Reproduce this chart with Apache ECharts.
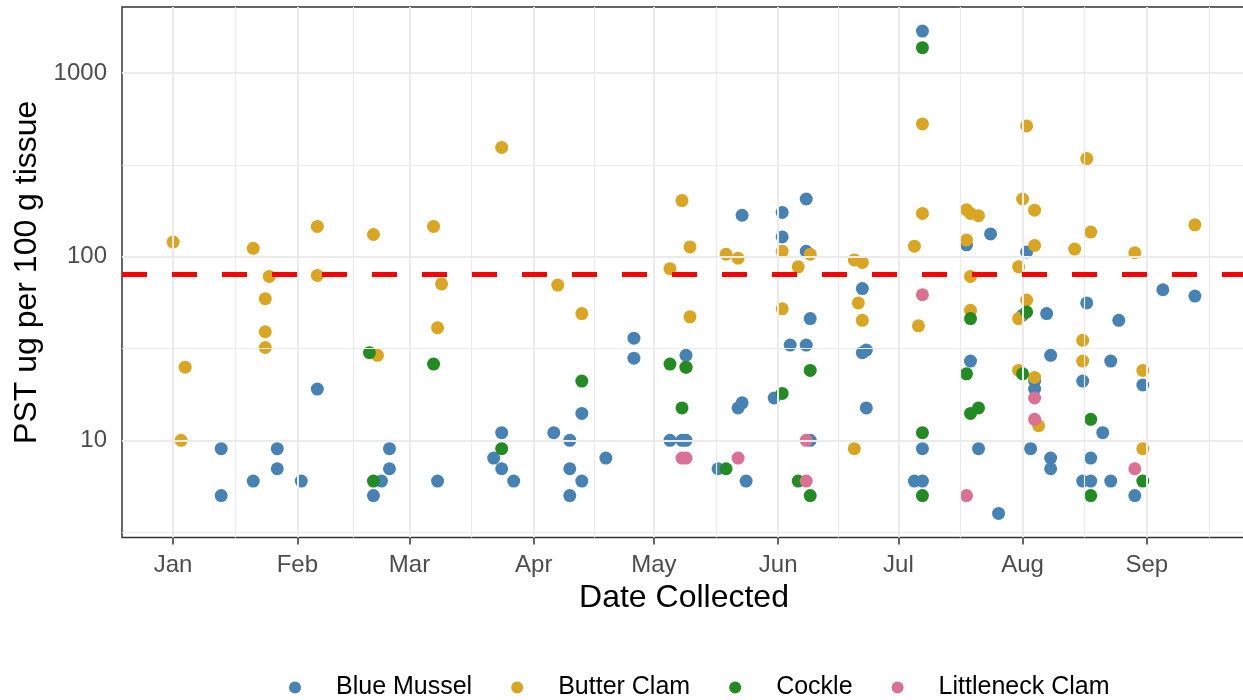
<!DOCTYPE html>
<html>
<head>
<meta charset="utf-8">
<script src="https://cdn.jsdelivr.net/npm/echarts@6/dist/echarts.min.js"></script>
<style>html,body{margin:0;padding:0;background:#fff}#chart{width:1243px;height:700px}</style>
</head>
<body>
<div id="chart"></div>
<script>
// ---------- data ----------
const speciesNames = ['Blue Mussel', 'Butter Clam', 'Cockle', 'Littleneck Clam'];
const speciesColors = ['#4682B4', '#DAA520', '#228B22', '#DB7093'];
const monthLabels = ['Jan', 'Feb', 'Mar', 'Apr', 'May', 'Jun', 'Jul', 'Aug', 'Sep'];
const monthStarts = ['2019-01-01', '2019-02-01', '2019-03-01', '2019-04-01', '2019-05-01',
  '2019-06-01', '2019-07-01', '2019-08-01', '2019-09-01'];
const yTickValues = [10, 100, 1000];
const actionLevel = 80;

const blueMussel = [
  ['2019-01-13', 9], ['2019-01-13', 5], ['2019-01-21', 6], ['2019-01-27', 9], ['2019-01-27', 7],
  ['2019-02-02', 6], ['2019-02-06', 19], ['2019-02-20', 5], ['2019-02-22', 6], ['2019-02-24', 9],
  ['2019-02-24', 7], ['2019-03-08', 6], ['2019-03-22', 8], ['2019-03-24', 11], ['2019-03-24', 7],
  ['2019-03-27', 6], ['2019-04-06', 11], ['2019-04-10', 10], ['2019-04-10', 7], ['2019-04-10', 5],
  ['2019-04-13', 14], ['2019-04-13', 6], ['2019-04-19', 8], ['2019-04-26', 36], ['2019-04-26', 28],
  ['2019-05-05', 10], ['2019-05-08', 10], ['2019-05-09', 10], ['2019-05-09', 29], ['2019-05-17', 7],
  ['2019-05-22', 15], ['2019-05-23', 16], ['2019-05-23', 168], ['2019-05-24', 6], ['2019-05-31', 17],
  ['2019-06-02', 174], ['2019-06-02', 128], ['2019-06-04', 33], ['2019-06-08', 206], ['2019-06-08', 107],
  ['2019-06-08', 33], ['2019-06-09', 46], ['2019-06-09', 10], ['2019-06-22', 67], ['2019-06-22', 30],
  ['2019-06-23', 31], ['2019-06-23', 15], ['2019-07-05', 6], ['2019-07-07', 1690], ['2019-07-07', 9],
  ['2019-07-07', 6], ['2019-07-18', 116], ['2019-07-19', 27], ['2019-07-21', 9], ['2019-07-24', 133],
  ['2019-07-26', 4], ['2019-08-01', 48], ['2019-08-02', 106], ['2019-08-03', 9], ['2019-08-04', 21],
  ['2019-08-04', 19], ['2019-08-07', 49], ['2019-08-08', 29], ['2019-08-08', 8], ['2019-08-08', 7],
  ['2019-08-16', 21], ['2019-08-16', 6], ['2019-08-17', 56], ['2019-08-18', 8], ['2019-08-18', 6],
  ['2019-08-21', 11], ['2019-08-23', 27], ['2019-08-23', 6], ['2019-08-25', 45], ['2019-08-29', 5],
  ['2019-08-31', 20], ['2019-09-05', 66], ['2019-09-13', 61]
];
const butterClam = [
  ['2019-01-01', 120], ['2019-01-03', 10], ['2019-01-04', 25], ['2019-01-21', 111], ['2019-01-24', 59],
  ['2019-01-24', 39], ['2019-01-24', 32], ['2019-01-25', 78], ['2019-02-06', 146], ['2019-02-06', 79],
  ['2019-02-20', 132], ['2019-02-21', 29], ['2019-03-07', 146], ['2019-03-08', 41], ['2019-03-09', 71],
  ['2019-03-24', 393], ['2019-04-07', 70], ['2019-04-13', 49], ['2019-05-05', 86], ['2019-05-08', 202],
  ['2019-05-09', 25], ['2019-05-10', 113], ['2019-05-10', 47], ['2019-05-19', 103], ['2019-05-22', 98],
  ['2019-06-02', 107], ['2019-06-02', 52], ['2019-06-06', 88], ['2019-06-09', 103], ['2019-06-20', 96],
  ['2019-06-20', 9], ['2019-06-21', 56], ['2019-06-22', 93], ['2019-06-22', 45], ['2019-07-05', 114],
  ['2019-07-06', 42], ['2019-07-07', 528], ['2019-07-07', 172], ['2019-07-18', 180], ['2019-07-18', 123],
  ['2019-07-19', 172], ['2019-07-19', 78], ['2019-07-19', 51], ['2019-07-21', 167], ['2019-07-31', 88],
  ['2019-07-31', 46], ['2019-07-31', 24], ['2019-08-01', 206], ['2019-08-02', 515], ['2019-08-02', 58],
  ['2019-08-04', 179], ['2019-08-04', 115], ['2019-08-04', 22], ['2019-08-05', 12], ['2019-08-14', 110],
  ['2019-08-16', 35], ['2019-08-16', 27], ['2019-08-17', 342], ['2019-08-18', 136], ['2019-08-29', 105],
  ['2019-08-31', 24], ['2019-08-31', 9], ['2019-09-13', 149]
];
const cockle = [
  ['2019-02-19', 30], ['2019-02-20', 6], ['2019-03-07', 26], ['2019-03-24', 9], ['2019-04-13', 21],
  ['2019-05-05', 26], ['2019-05-08', 15], ['2019-05-09', 25], ['2019-05-19', 7], ['2019-06-02', 18],
  ['2019-06-06', 6], ['2019-06-09', 24], ['2019-06-09', 5], ['2019-07-07', 1373], ['2019-07-07', 11],
  ['2019-07-07', 5], ['2019-07-18', 23], ['2019-07-19', 46], ['2019-07-19', 14], ['2019-07-21', 15],
  ['2019-08-01', 23], ['2019-08-02', 50], ['2019-08-18', 13], ['2019-08-18', 5], ['2019-08-31', 6]
];
const littleneckClam = [
  ['2019-05-08', 8], ['2019-05-09', 8], ['2019-05-22', 8], ['2019-06-08', 10], ['2019-06-08', 6],
  ['2019-07-07', 62], ['2019-07-18', 5], ['2019-08-04', 17], ['2019-08-04', 13], ['2019-08-29', 7]
];

// ---------- derived (x axis in days since Jan 1) ----------
const speciesData = [blueMussel, butterClam, cockle, littleneckClam];
const DAY = 86400000;
const origin = Date.parse(monthStarts[0] + 'T00:00:00Z');
const toDay = d => (Date.parse(d + 'T00:00:00Z') - origin) / DAY;
const allPts = speciesData.flat();
const allT = allPts.map(p => toDay(p[0]));
const allV = allPts.map(p => p[1]);
const tMin = Math.min(...allT), tMax = Math.max(...allT);
const tPad = (tMax - tMin) * 0.05;
const xMin = tMin - tPad, xMax = tMax + tPad;
const lMin = Math.log10(Math.min(...allV)), lMax = Math.log10(Math.max(...allV));
const lPad = (lMax - lMin) * 0.05;
const yMin = Math.pow(10, lMin - lPad), yMax = Math.pow(10, lMax + lPad);

const monthDays = monthStarts.map(toDay);
const nM = monthDays.length;
const xMinor = [monthDays[0] - (monthDays[1] - monthDays[0]) / 2];
for (let i = 0; i < nM - 1; i++) xMinor.push((monthDays[i] + monthDays[i + 1]) / 2);
xMinor.push(monthDays[nM - 1] + (monthDays[nM - 1] - monthDays[nM - 2]) / 2);
const xMinorIn = xMinor.filter(t => t > xMin && t < xMax);
const yMinor = [yTickValues[0] / Math.sqrt(10)].concat(yTickValues.map(v => v * Math.sqrt(10)))
  .filter(v => v > yMin && v < yMax);

const FONT = 'Liberation Sans, Arial, sans-serif';
const gridColor = '#EBEBEB';

function gridLines(vals, key, width) {
  return vals.map(v => ({ [key]: v, lineStyle: { color: gridColor, width: width, type: 'solid' } }));
}

const chart = echarts.init(document.getElementById('chart'), null, { renderer: 'canvas' });

const series = [
  {
    name: '__grid',
    type: 'scatter',
    data: [],
    z: 1,
    silent: true,
    markLine: {
      silent: true,
      symbol: ['none', 'none'],
      label: { show: false },
      emphasis: { disabled: true },
      animation: false,
      data: [].concat(
        gridLines(xMinorIn, 'xAxis', 1.2),
        gridLines(yMinor, 'yAxis', 1.2),
        gridLines(monthDays, 'xAxis', 2),
        gridLines(yTickValues, 'yAxis', 2)
      )
    }
  }
];
speciesData.forEach((arr, i) => {
  series.push({
    name: speciesNames[i],
    type: 'scatter',
    z: 2,
    symbol: 'circle',
    symbolSize: 13,
    itemStyle: { color: speciesColors[i], opacity: 1 },
    emphasis: { disabled: true },
    data: arr.map(p => [toDay(p[0]), p[1]])
  });
});
series.push({
  name: '__threshold',
  type: 'scatter',
  data: [],
  z: 5,
  silent: true,
  markLine: {
    silent: true,
    symbol: ['none', 'none'],
    label: { show: false },
    emphasis: { disabled: true },
    animation: false,
    data: [{ yAxis: actionLevel, lineStyle: { color: '#FF0000', width: 5, type: [25, 25] } }]
  }
});

chart.setOption({
  animation: false,
  backgroundColor: '#ffffff',
  textStyle: { fontFamily: FONT },
  grid: {
    left: 122, right: -3, top: 7, bottom: 162.5,
    containLabel: false,
    outerBoundsMode: 'none',
    show: true,
    borderColor: '#333333',
    borderWidth: 1.5,
    backgroundColor: 'transparent'
  },
  legend: {
    data: speciesNames,
    left: 284,
    top: 670,
    orient: 'horizontal',
    icon: 'circle',
    itemWidth: 12,
    itemHeight: 12,
    itemGap: 39,
    selectedMode: false,
    textStyle: { fontSize: 25, color: '#000000', fontFamily: FONT, padding: [0, 0, 0, 30] }
  },
  xAxis: {
    type: 'value',
    min: xMin,
    max: xMax,
    name: 'Date Collected',
    nameLocation: 'middle',
    nameGap: 45,
    nameTextStyle: { fontSize: 32, color: '#000000', fontFamily: FONT },
    axisLine: { show: false },
    axisTick: { show: true, length: 7, customValues: monthDays, lineStyle: { color: '#333333', width: 1.5 } },
    axisLabel: {
      show: true,
      customValues: monthDays,
      margin: 16,
      fontSize: 24,
      color: '#4D4D4D',
      fontFamily: FONT,
      hideOverlap: false,
      formatter: function (v) {
        const idx = monthDays.indexOf(v);
        return idx >= 0 ? monthLabels[idx] : '';
      }
    },
    splitLine: { show: false },
    minorTick: { show: false },
    minorSplitLine: { show: false }
  },
  yAxis: {
    type: 'log',
    logBase: 10,
    min: yMin,
    max: yMax,
    name: 'PST ug per 100 g tissue',
    nameLocation: 'middle',
    nameGap: 67,
    nameTextStyle: { fontSize: 32, color: '#000000', fontFamily: FONT },
    axisLine: { show: false },
    axisTick: { show: true, length: 7, customValues: yTickValues, lineStyle: { color: '#333333', width: 1.5 } },
    axisLabel: {
      show: true,
      customValues: yTickValues,
      margin: 15,
      fontSize: 24,
      color: '#4D4D4D',
      fontFamily: FONT,
      formatter: function (v) { return String(Math.round(v)); }
    },
    splitLine: { show: false },
    minorTick: { show: false },
    minorSplitLine: { show: false }
  },
  series: series
});
</script>
</body>
</html>
